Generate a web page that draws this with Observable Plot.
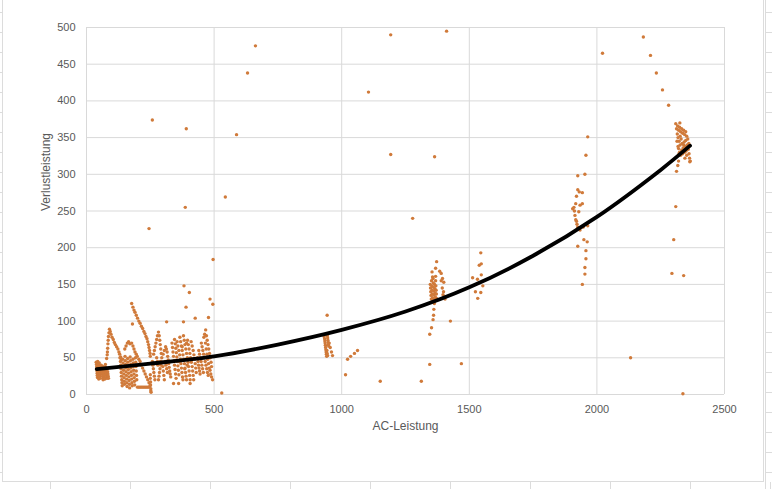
<!DOCTYPE html>
<html><head><meta charset="utf-8">
<script src="https://cdn.jsdelivr.net/npm/d3@7"></script>
<script src="https://cdn.jsdelivr.net/npm/@observablehq/plot@0.6"></script>
<style>
html,body{margin:0;padding:0;background:#fff;}
#wrap{position:relative;width:772px;height:489px;overflow:hidden;}
</style></head><body><div id="wrap"></div>
<script>
const xTicks = [0, 500, 1000, 1500, 2000, 2500];
const yTicks = [0, 50, 100, 150, 200, 250, 300, 350, 400, 450, 500];
const xTitle = "AC-Leistung";
const yTitle = "Verlustleistung";

// trendline
const trendX = [40, 250, 500, 750, 1000, 1250, 1500, 1750, 2000, 2250, 2365];
const trendY = [34.5, 42, 52, 68, 88, 113, 146, 189, 242, 306, 339];

// measured points [AC-Leistung, Verlustleistung]
const lowA = [[38,44],[39,41],[40,38],[40,35],[41,32],[42,29],[42,26],[43,23],[44,45],[45,42],[45,39],[46,36],[46,33],[47,30],[47,27],[48,24],[48,21],[50,43],[50,40],[51,37],[51,34],[52,31],[52,28],[53,25],[53,22],
[58,40],[59,37],[60,34],[61,31],[62,28],[63,25],[64,22],[65,20],[66,38],[67,35],[68,32],[69,29],[70,26],[71,23],[72,21],[74,41],[75,37],[76,33],[77,30],[78,27],[79,24],[80,22],[82,35],[83,31],[84,28],[85,25],[86,22]];
const lowSpike = [[79,49],[81,54],[82,58],[83,63],[84,69],[85,74],[86,79],[88,84],[90,89],[93,86],[96,82],[100,78],[105,75],[109,71],[113,68],[118,65],[123,62],[127,58],[130,55],[134,51],[137,48]];
const lowB = [[131,50],[133,45],[134,40],[135,35],[136,30],[137,25],[138,20],[139,16],[140,12],
[142,48],[143,43],[144,38],[145,33],[146,28],[147,23],[148,18],[149,14],
[151,52],[152,46],[153,41],[154,36],[155,31],[156,26],[157,21],[158,16],[159,11],
[161,49],[162,44],[163,39],[164,34],[165,29],[166,24],[167,19],[168,14],[169,9],
[171,51],[172,46],[173,41],[174,36],[175,31],[176,26],[177,21],[178,16],[179,12],
[182,48],[183,43],[184,38],[185,33],[186,28],[187,23],[188,18],[189,13],
[192,50],[193,44],[194,38],[195,32],[196,26],[197,20],
[150,62],[155,66],[160,70],[165,72],[170,69]];
const lowArc = [[177,124],[182,119],[186,115],[190,112],[195,108],[200,104],[205,100],[210,97],[215,93],[220,90],[225,86],[229,83],[233,79],[237,76],[240,72],[243,68],[245,64],[247,60],[249,56],[250,52],[180,96],
[177,70],[182,66],[186,62],[190,58],[195,55],[199,52],[205,48],[210,45],[215,40],[220,36],[225,32],[230,28],[235,24],[240,20],[245,16],[249,12],
[200,10],[205,10],[210,10],[215,10],[220,10],[225,10],[230,10],[235,10],[240,10],[245,10],
[250,27],[250,22],[251,17],[251,13],[252,8],[252,5],[253,3]];
const lowC = [[258,45],[260,40],[262,35],[264,30],[266,25],[268,20],[263,55],[266,60],[269,65],[272,70],[275,75],[278,80],[282,85],[285,80],[287,74],[289,68],[291,62],[293,56],[295,50],[297,44],[299,38],[301,32],[303,26],[305,20],[290,45],[292,40],[288,35],[286,30],[284,25],[282,20],[275,50],[278,45],[280,40],[300,55],[305,60],[310,65],[313,62],[316,58],[318,52],[320,47],[322,42],[324,37],[326,32],[328,28],[330,24],[314,99],[308,45],[311,40],[314,35],[317,30]];
const lowD = [[335,70],[337,64],[339,58],[341,52],[343,46],[345,40],[347,34],[349,28],[351,22],[341,15],
[345,75],[348,69],[350,63],[352,57],[354,51],[356,45],[358,39],[360,33],[362,27],[361,15],
[355,72],[358,66],[362,60],[365,54],[368,48],[370,42],[372,36],[374,30],[376,24],[378,20],
[366,78],[369,72],[372,66],[375,60],[378,54],[381,48],[384,42],[386,36],[388,30],[390,25],[392,20],
[380,80],[383,74],[386,68],[389,62],[392,56],[395,50],[398,44],[400,38],[402,32],[404,26],[406,20],[406,15],
[392,70],[396,74],[399,68],[402,62],[405,56],[408,50],[411,44],[414,38],[416,32],[418,26],[420,20],
[410,72],[414,66],[418,60],[421,54],[424,48],[426,42],[428,36],[430,30],
[382,148],[403,139],[390,119],[380,99],[426,104],[395,40],[385,35],[375,65],[362,45]];
const lowE = [[435,50],[437,45],[439,40],[441,36],[443,32],[445,28],[440,60],[443,55],[446,50],[449,45],[452,40],[455,35],[458,30],
[450,70],[453,65],[456,60],[459,55],[462,50],[465,45],[468,40],[471,35],[474,30],[477,26],
[460,78],[463,82],[467,88],[470,80],[473,74],[476,68],[479,62],[482,56],[485,50],[488,44],[490,38],[484,33],[487,28],[490,24],[494,20],
[466,70],[469,62],[472,55],[475,48],[478,42],[481,36],
[484,130],[495,123],[478,105],[530,2]];
const lowOutliers = [[258,374],[245,226],[391,362],[387,255],[496,184],[544,269],[588,354],[631,438],[662,475]];
const mid940 = [[943,108],[931,79],[933,76],[934,73],[935,70],[936,67],[937,64],[938,61],[939,58],[940,55],[941,52],[944,80],[945,77],[946,74],[947,71],[948,68],[949,66],[951,70],[955,64],[960,58],[964,53],[942,60],[943,56],[945,53]];
const mid1000 = [[1015,27],[1023,48],[1035,52],[1050,56],[1062,60],[1151,18],[1105,412],[1192,490],[1192,327],[1278,240],[1312,18]];
const mid1360 = [[1345,41],[1345,82],[1352,91],[1358,102],[1360,108],[1361,116],[1363,124],
[1347,150],[1348,145],[1349,140],[1350,135],[1351,130],[1352,155],[1353,148],[1354,142],[1355,137],[1356,132],[1357,128],[1358,158],[1359,152],[1360,146],[1361,141],[1362,136],[1363,131],[1364,150],[1365,144],[1366,138],[1367,133],[1368,155],[1369,148],[1370,142],[1371,137],[1372,131],[1354,167],[1356,160],[1368,161],[1368,172],[1372,181],
[1384,168],[1390,165],[1395,158],[1400,153],[1390,155],[1394,145],[1399,140],[1403,133],[1397,136],[1405,130],
[1364,324],[1426,100],[1469,42],[1411,495]];
const mid1540 = [[1545,193],[1547,178],[1539,176],[1513,159],[1532,157],[1547,163],[1553,148],[1524,140],[1545,139],[1533,131]];
const high1940 = [[1964,351],[1957,326],[1953,300],[1925,298],[1925,279],[1931,276],[1943,275],[1920,270],[1917,260],[1934,258],[1943,260],[1905,253],[1912,250],[1929,249],[1914,244],[1917,238],[1920,236],[1925,228],[1946,228],[1964,230],[1934,224],[1949,211],[1962,208],[1925,202],[1957,196],[1957,185],[1953,173],[1953,164],[1943,150],[1910,255],[1922,232],[2022,465],[2132,50]];
const high2330 = [[2309,369],[2325,370],[2315,355],[2320,318],[2317,312],[2312,304],[2309,256],[2301,211],[2294,165],[2340,162],[2345,322],[2364,317],[2337,1],
[2312,362],[2316,366],[2320,360],[2324,364],[2328,358],[2332,362],[2336,356],[2340,360],[2344,354],[2348,358],[2352,352],[2318,350],[2322,345],[2326,340],[2330,348],[2334,342],[2338,336],[2342,344],[2346,338],[2350,332],[2354,340],[2358,334],[2361,328],[2320,335],[2324,330],[2328,326],[2332,333],[2336,328],[2340,340],[2344,330],[2348,346],[2352,326],[2356,348],[2360,342],[2363,322],[2366,318],[2314,345],[2318,338],[2322,328],[2326,352],
[2182,487],[2210,462],[2233,438],[2257,415],[2281,394]];

const points = [...lowA, ...lowSpike, ...lowB, ...lowArc, ...lowC, ...lowD, ...lowE, ...lowOutliers,
  ...mid940, ...mid1000, ...mid1360, ...mid1540, ...high1940, ...high2330].map(([x, y]) => ({x, y}));
const trend = trendX.map((x, i) => ({x, y: trendY[i]}));

const grid = "#d9d9d9", txt = "#595959";
const fmt = d => String(d);
const chart = Plot.plot({
  width: 772, height: 489,
  marginLeft: 86, marginRight: 48, marginTop: 27, marginBottom: 95,
  style: {fontFamily: "'Liberation Sans', Arial, sans-serif", fontSize: "11px", color: txt, background: "transparent", overflow: "visible"},
  x: {domain: [0, 2500]},
  y: {domain: [0, 500]},
  marks: [
    Plot.gridX(xTicks, {stroke: grid, strokeOpacity: 1}),
    Plot.gridY(yTicks, {stroke: grid, strokeOpacity: 1}),
    Plot.axisX(xTicks, {tickSize: 0, tickPadding: 11, label: null, fill: txt, tickFormat: fmt}),
    Plot.axisY(yTicks, {tickSize: 0, tickPadding: 11, label: null, fill: txt, tickFormat: fmt}),
    Plot.dot(points, {x: "x", y: "y", r: 1.7, fill: "#d07a3a", stroke: null}),
    Plot.line(trend, {x: "x", y: "y", stroke: "#000", strokeWidth: 3.8, curve: "catmull-rom"}),
    Plot.text([xTitle], {frameAnchor: "bottom", dy: 35, fontSize: 12, fill: txt}),
    Plot.text([yTitle], {frameAnchor: "left", dx: -40, rotate: -90, fontSize: 12, fill: txt})
  ]
});
document.getElementById("wrap").appendChild(chart);

// spreadsheet / chart-area frame decoration
const svg = d3.select(chart);
const deco = svg.insert("g", ":first-child").attr("stroke", "#dcdcdc").attr("fill", "none");
deco.append("rect").attr("x", 2.5).attr("y", -2).attr("width", 761).attr("height", 483.5).attr("fill", "#fff");
deco.append("line").attr("x1", 765.5).attr("x2", 765.5).attr("y1", 0).attr("y2", 489);
for (let y = 12.5; y < 489; y += 20) {
  deco.append("line").attr("x1", 0).attr("x2", 2).attr("y1", y).attr("y2", y);
  deco.append("line").attr("x1", 766).attr("x2", 772).attr("y1", y).attr("y2", y);
}
for (let x = 50.5; x < 772; x += 80) {
  deco.append("line").attr("x1", x).attr("x2", x).attr("y1", 482).attr("y2", 489);
}
</script></body></html>
